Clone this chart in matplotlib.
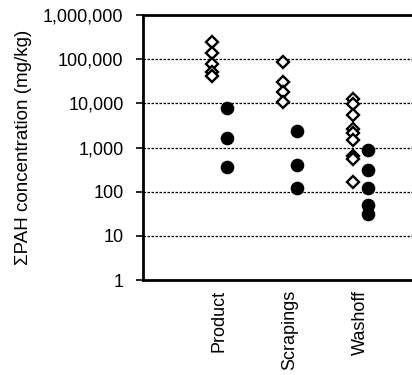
import matplotlib.pyplot as plt

plt.rcParams['font.family'] = ['Liberation Sans', 'DejaVu Sans']

# Categories and measured sum-PAH concentrations (mg/kg)
categories = ['Product', 'Scrapings', 'Washoff']
positions = [0, 1, 2]

# open diamonds
diamond_vals = [
    [249000, 136000, 76500, 52000, 41600],
    [85000, 29900, 18400, 10900],
    [12300, 9700, 5400, 2600, 2100, 1480, 645, 550, 168],
]
# filled circles
circle_vals = [
    [7700, 1620, 368],
    [2370, 402, 123],
    [880, 310, 119, 50, 32],
]

yticks = [1, 10, 100, 1000, 10000, 100000, 1000000]
ytick_labels = ['1', '10', '100', '1,000', '10,000', '100,000', '1,000,000']

fig = plt.figure(figsize=(4.12, 3.75), dpi=100)
ax = fig.add_axes([0.347, 0.2533, 0.653, 0.7067])

# dotted gridlines at each decade
for y in yticks[1:-1]:
    ax.axhline(y, color='black', linestyle=(0, (2, 1.2)), linewidth=0.9, zorder=1)

for pos, vals in zip(positions, diamond_vals):
    ax.plot([pos - 0.1] * len(vals), vals, linestyle='none', marker='D',
            markersize=6.3, markerfacecolor='white', markeredgecolor='black',
            markeredgewidth=1.7, zorder=3)
for pos, vals in zip(positions, circle_vals):
    ax.plot([pos + 0.1] * len(vals), vals, linestyle='none', marker='o',
            markersize=8.8, color='black', zorder=3)

ax.set_yscale('log')
ax.set_ylim(1, 1000000)
ax.set_xlim(-1.085, 2.73)
ax.set_yticks(yticks)
ax.set_yticklabels(ytick_labels, fontsize=13)
ax.minorticks_off()
ax.set_xticks(positions)
ax.set_xticklabels(categories, rotation=90, fontsize=13)
ax.tick_params(axis='x', length=0, pad=7)
ax.tick_params(axis='y', length=5, width=1.2, pad=9, direction='out')
ax.set_ylabel('ΣPAH concentration (mg/kg)', fontsize=13.5, labelpad=8)

for side in ['left', 'top', 'bottom']:
    ax.spines[side].set_linewidth(2)
ax.spines['right'].set_visible(False)

fig.savefig('out.png', dpi=100)
